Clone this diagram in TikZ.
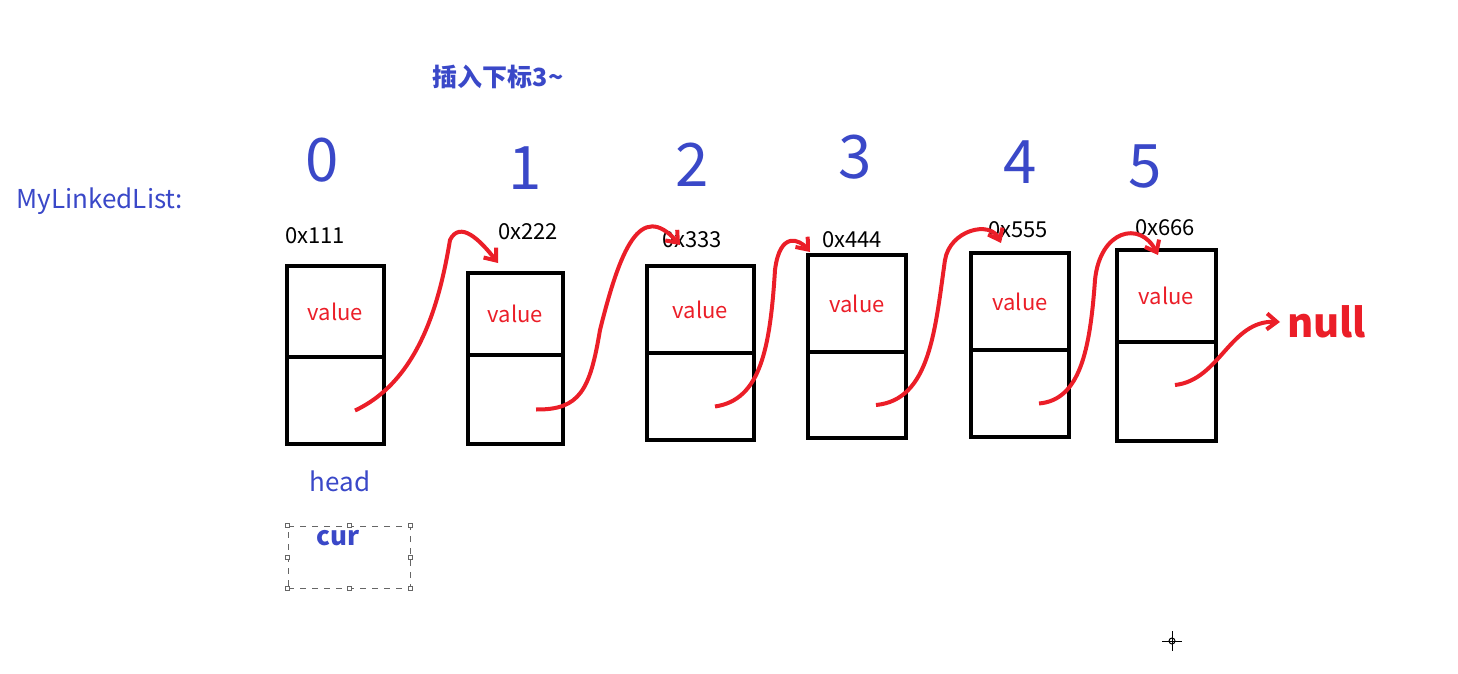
\documentclass[tikz,border=0pt]{standalone}
\usepackage{fontspec}
\setmainfont{Noto Sans CJK SC}
\usetikzlibrary{arrows.meta,calc}
\definecolor{bl}{RGB}{58,72,200}
\definecolor{rd}{RGB}{235,30,40}
\begin{document}
\begin{tikzpicture}[x=0.5pt,y=-0.5pt,
  cell/.style={draw=black,line width=1.8pt},
  val/.style={text=rd,font=\fontsize{11}{12}\selectfont},
  addr/.style={text=black,font=\fontsize{11}{12}\selectfont},
  idx/.style={text=bl,font=\fontsize{30}{30}\selectfont\itshape},
  lnk/.style={draw=rd,line width=2pt,-{Straight Barb[length=5pt,width=8pt]}}]
\useasboundingbox (0,0) rectangle (1458,674);
\node[text=bl,font=\bfseries\fontsize{12.5}{13}\selectfont] (title) at (498,77) {插入下标3\textasciitilde};
\node[text=bl,font=\fontsize{13}{14}\selectfont] (lbl) at (100,201) {MyLinkedList:};
\foreach \n/\x/\y in {0/322/160,1/525/168,2/692/165,3/855/157,4/1020/162,5/1145/167}
  \node[idx] (i\n) at (\x,\y) {\n};
\foreach \n/\l/\t/\r/\b/\d in {0/287/266/384/444/357,1/468/273/563/444/355,2/647/266/754/440/353,3/808/255/906/438/352,4/971/253/1069/437/350,5/1117/250/1216/441/342}{
  \draw[cell] (\l,\t) rectangle (\r,\b);
  \draw[cell] (\l,\d) -- (\r,\d);
  \node[val] (v\n) at ({(\l+\r)/2},{(\t+\d)/2}) {value};
  \coordinate (s\n) at ({\l+68},{(\d+\b)/2+10});
  \coordinate (e\n) at ({\l+30},{\t-10});
}
\node[addr] (a0) at (315,236) {0x111};
\node[addr] (a1) at (528,232) {0x222};
\node[addr] (a2) at (692,240) {0x333};
\node[addr] (a3) at (852,240) {0x444};
\node[addr] (a4) at (1018,230) {0x555};
\node[addr] (a5) at (1165,228) {0x666};
\draw[lnk] (s0) .. controls (420,380) and (440,300) .. (450,240) .. controls (460,220) and (480,240) .. (e1);
\draw[lnk] (s1) .. controls (580,410) and (590,390) .. (600,330) .. controls (620,250) and (640,200) .. (680,245);
\draw[lnk] (s2) .. controls (760,400) and (770,350) .. (775,270) .. controls (780,230) and (800,240) .. (810,252);
\draw[lnk] (s3) .. controls (930,400) and (935,330) .. (945,260) .. controls (950,230) and (990,220) .. (e4);
\draw[lnk] (s4) .. controls (1080,400) and (1090,350) .. (1095,280) .. controls (1100,230) and (1140,220) .. (1158,255);
\coordinate (nl) at (1280,322);
\draw[lnk] (1175,385) .. controls (1220,380) and (1230,320) .. (nl);
\node[text=rd,font=\bfseries\fontsize{20}{20}\selectfont,anchor=west] (null) at (nl) {null};
\node[text=bl,font=\fontsize{13}{14}\selectfont] (head) at (340,481) {head};
\node[draw=black!60,dashed,line width=0.4pt,minimum width=61pt,minimum height=31pt] (cb) at (349,557) {};
\node[text=bl,font=\bfseries\fontsize{13}{14}\selectfont] (cur) at (338,538) {cur};
\foreach \a in {north west,north,north east,east,south east,south,south west,west}
  \draw[black!60,fill=white,line width=0.4pt] (cb.\a) ++(-2,-2) rectangle ++(4,4);
\coordinate (ch) at (1172,641);
\draw[black,line width=0.5pt] ($(ch)+(-10,0)$) -- ($(ch)+(10,0)$) ($(ch)+(0,-10)$) -- ($(ch)+(0,10)$);
\draw[black,line width=0.5pt] (ch) circle (3);
\end{tikzpicture}
\end{document}
